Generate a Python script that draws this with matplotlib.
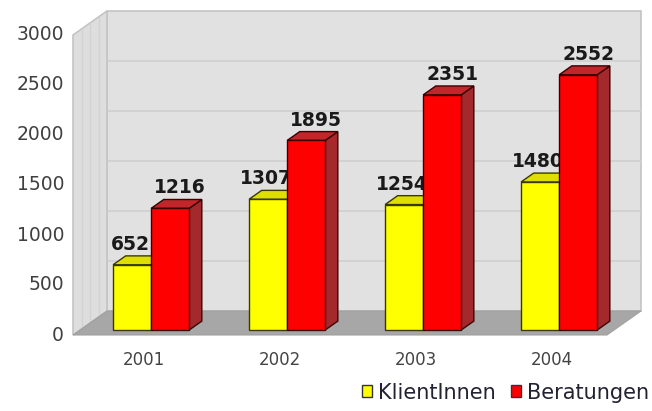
import matplotlib.pyplot as plt
from matplotlib.patches import Polygon, Patch

years = ['2001', '2002', '2003', '2004']
klientinnen = [652, 1307, 1254, 1480]
beratungen = [1216, 1895, 2351, 2552]
yticks = [0, 500, 1000, 1500, 2000, 2500, 3000]
series_names = ['KlientInnen', 'Beratungen']

# pseudo 3d geometry (x in category units, y in value units)
DX = 0.25      # full depth, x shift
DY = 240       # full depth, y shift
T0, T1 = 0.21, 0.58   # bar depth range
W = 0.28
wall_l, wall_r = -0.522, 3.404
ymax = 3000

plt.rcParams['font.family'] = ['DejaVu Sans']
fig = plt.figure(figsize=(6.52, 4.11), dpi=100)
ax = fig.add_axes([0, 0, 1, 1])
ax.set_xlim(-1.0588, 3.735)
ax.set_ylim(-760, 3350)
ax.axis('off')


def poly(pts, fc, ec, lw=1.0, z=1):
    ax.add_patch(Polygon(pts, closed=True, facecolor=fc, edgecolor=ec, linewidth=lw, zorder=z))


# back wall
poly([(wall_l + DX, DY), (wall_r + DX, DY), (wall_r + DX, ymax + DY), (wall_l + DX, ymax + DY)],
     '#e1e1e1', '#c4c4c4', 1.2)
for v in yticks[1:-1]:
    ax.plot([wall_l + DX, wall_r + DX], [v + DY, v + DY], color='#d0d0d0', lw=1.2, zorder=1.5)
# left wall
poly([(wall_l, 0), (wall_l + DX, DY), (wall_l + DX, ymax + DY), (wall_l, ymax)],
     '#dedede', '#c4c4c4', 1.2, 1.6)
for k in range(1, 4):
    t = k / 4
    ax.plot([wall_l + t * DX, wall_l + t * DX], [t * DY, ymax + t * DY], color='#d2d2d2', lw=1, zorder=1.7)
# floor
poly([(wall_l, 0), (wall_r, 0), (wall_r + DX, DY), (wall_l + DX, DY)], '#a7a7a7', '#a0a0a0', 0.8, 1.8)


def bar3d(x, v, front, top, side, edge, z):
    a, b = x + T0 * DX, x + W + T0 * DX
    c, d = x + T1 * DX, x + W + T1 * DX
    y0, y1 = T0 * DY, T1 * DY
    poly([(b, y0), (d, y1), (d, v + y1), (b, v + y0)], side, edge, 1.0, z)
    poly([(a, v + y0), (b, v + y0), (d, v + y1), (c, v + y1)], top, edge, 1.0, z)
    poly([(a, y0), (b, y0), (b, v + y0), (a, v + y0)], front, edge, 1.0, z)


for i in range(len(years)):
    yk, yb = klientinnen[i], beratungen[i]
    bar3d(i - W, yk, '#ffff00', '#dede00', '#a8a800', '#3a3a00', 3 + i)
    # yellow labels sit under the red bar, as in the original
    ax.annotate(str(yk), (i - W / 2 + T0 * DX, yk + T1 * DY), xytext=(-2, 6),
                textcoords='offset pixels', ha='center', va='baseline',
                fontsize=13.5, fontweight='bold', color='#1a1a1a', zorder=3.5 + i)
    bar3d(i, yb, '#ff0000', '#c0262a', '#a3292d', '#3a0000', 3.7 + i)
    ax.annotate(str(yb), (i + W / 2 + T0 * DX, yb + T1 * DY), xytext=(10, 6),
                textcoords='offset pixels', ha='center', va='baseline',
                fontsize=13.5, fontweight='bold', color='#1a1a1a', zorder=3.8 + i)
    ax.annotate(years[i], (i, 0), xytext=(0, -25), textcoords='offset pixels',
                ha='center', va='center', fontsize=12, color='#444444')

for v in yticks:
    ax.annotate(str(v), (wall_l, v), xytext=(-9, 0), textcoords='offset pixels',
                ha='right', va='center', fontsize=13.5, color='#404040')

handles = [Patch(facecolor='#ffff00', edgecolor='#333333'),
           Patch(facecolor='#ff0000', edgecolor='#333333')]
fig.legend(handles, series_names, loc='lower right', bbox_to_anchor=(1.025, -0.025), ncol=2,
           frameon=False, fontsize=15, handlelength=0.5, handleheight=0.5,
           handletextpad=0.3, columnspacing=0.7, labelcolor='#222233')

fig.savefig('out.png', dpi=100)
